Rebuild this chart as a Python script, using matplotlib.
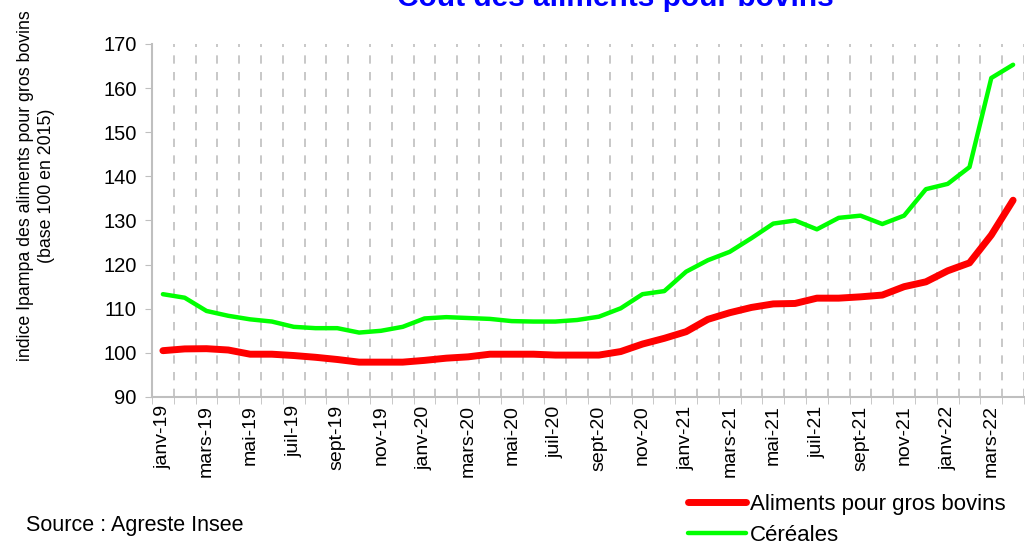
import numpy as np
import matplotlib
matplotlib.use("Agg")
import matplotlib.pyplot as plt

plt.rcParams['font.family'] = ['Liberation Sans', 'DejaVu Sans']

mois = ["janv", "févr", "mars", "avr", "mai", "juin", "juil", "août", "sept", "oct", "nov", "déc"]
labels = []
for an in ["19", "20", "21", "22"]:
    for m in mois:
        labels.append(m + "-" + an)
labels = labels[:40]  # janv-19 -> avr-22

aliments_bovins = [100.5, 100.9, 100.95, 100.65, 99.7, 99.7, 99.4, 99.0, 98.5, 97.9,
                   97.9, 97.9, 98.3, 98.8, 99.1, 99.7, 99.7, 99.7, 99.5, 99.5,
                   99.5, 100.3, 102.0, 103.3, 104.8, 107.6, 109.1, 110.3, 111.1, 111.2,
                   112.4, 112.4, 112.7, 113.1, 115.0, 116.1, 118.6, 120.4, 126.7, 134.6]
cereales = [113.3, 112.5, 109.5, 108.4, 107.6, 107.1, 105.9, 105.6, 105.6, 104.6,
            105.0, 105.9, 107.8, 108.1, 107.9, 107.7, 107.2, 107.1, 107.1, 107.45,
            108.2, 110.1, 113.3, 114.0, 118.4, 121.0, 122.9, 126.0, 129.3, 130.0,
            128.0, 130.6, 131.1, 129.2, 131.1, 137.1, 138.3, 142.1, 162.3, 165.3]

x = np.arange(len(labels))

fig = plt.figure(figsize=(10.25, 5.45), dpi=100)
ax = fig.add_axes([152/1025, 1 - 397/545, 872/1025, 353/545])

ax.plot(x, aliments_bovins, color='#ff0000', lw=5, solid_capstyle='round',
        label="Aliments pour gros bovins", zorder=3)
ax.plot(x, cereales, color='#00ff00', lw=3.2, solid_capstyle='round',
        label="Céréales", zorder=3)

ax.set_xlim(-0.5, len(labels) - 0.5)
ax.set_ylim(90, 170)
ax.set_yticks(np.arange(90, 171, 10))

ax.set_xticks(x[::2])
ax.set_xticklabels(labels[::2], rotation=90, fontsize=14)
ax.set_xticks(np.arange(-0.5, len(labels), 1), minor=True)
ax.tick_params(axis='x', which='major', length=0, pad=6)
ax.tick_params(axis='x', which='minor', length=5, color='#bfbfbf', direction='out')
ax.tick_params(axis='y', length=5, color='#bfbfbf', labelsize=14.5, pad=6)
ax.grid(axis='x', which='minor', color='#bfbfbf', linestyle=(0, (5, 5)), lw=1.2)

for s in ['top', 'right']:
    ax.spines[s].set_visible(False)
for s in ['left', 'bottom']:
    ax.spines[s].set_color('#bfbfbf')
    ax.spines[s].set_linewidth(1.5)

fig.text(36/1025, 1 - 186/545,
         "indice Ipampa des aliments pour gros bovins\n(base 100 en 2015)",
         rotation=90, ha='center', va='center', multialignment='center',
         fontsize=12.8, linespacing=1.3)

fig.text(615/1025, 1 - 6/545, "Coût des aliments pour bovins", color='#0000ff',
         fontsize=21.5, fontweight='bold', ha='center', va='baseline')
fig.text(26/1025, 1 - 526/545, "Source : Agreste Insee", fontsize=15.5, va='center')

fig.legend(loc='upper left', bbox_to_anchor=(688/1025, 1 - 494/545), frameon=False,
           fontsize=16, handlelength=2.6, handletextpad=0.2, labelspacing=0.45,
           borderpad=0, borderaxespad=0)

fig.savefig("out.png", dpi=100)
